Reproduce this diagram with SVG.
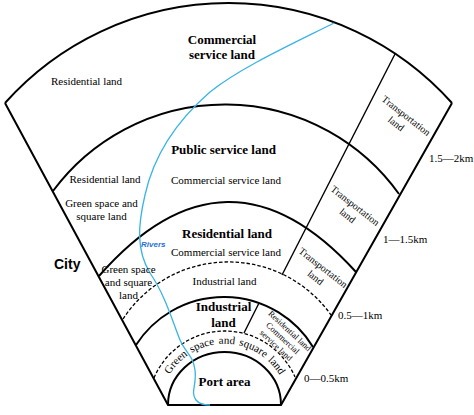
<svg xmlns="http://www.w3.org/2000/svg" width="474" height="415" viewBox="0 0 474 415">
<style>
.ln{fill:none;stroke:#000;stroke-width:2;stroke-linejoin:round}
.th{fill:none;stroke:#000;stroke-width:1.4}
.ds{fill:none;stroke:#000;stroke-width:1.3;stroke-dasharray:3.5 2}
.rv{fill:none;stroke:#3ab4e4;stroke-width:1.3}
.t{font-family:"Liberation Serif","Times New Roman",serif;font-size:11px;fill:#000;text-anchor:middle}
.c{font-family:"Liberation Serif","Times New Roman",serif;font-size:11px;fill:#000}
.b{font-family:"Liberation Serif","Times New Roman",serif;font-size:13px;font-weight:bold;fill:#000;text-anchor:middle}
.tr{font-family:"Liberation Serif","Times New Roman",serif;font-size:10px;fill:#000;text-anchor:middle}
.sm{font-family:"Liberation Serif","Times New Roman",serif;font-size:8.5px;fill:#000;text-anchor:middle}
.km{font-family:"Liberation Serif","Times New Roman",serif;font-size:11px;fill:#000}
</style>
<defs>
<path id="gpath" d="M168,377.7 A64,64 0 0 1 281,377.7"/>
</defs>
<rect width="474" height="415" fill="#fff"/>
<g id="connectors">
<path class="ln" d="M5,103 A299.8,299.8 0 0 1 452,103"/>
<path class="ln" d="M5,103 L168,405 L281,405 L452,103"/>
<path class="ln" d="M53,191 A214,214 0 0 1 399,194"/>
<path class="ln" d="M99,276 Q227,130 356,272"/>
<path class="ln" d="M136,345 A104.4,104.4 0 0 1 313,347"/>
<path class="ln" d="M168,405 A56.5,53 0 0 1 281,405"/>
<path class="ds" d="M123,319 A125.8,125.8 0 0 1 331,315"/>
<path class="ds" d="M154,378 A76.7,76.7 0 0 1 295,377"/>
<path class="th" d="M395,54 L282,275"/>
<path class="th" d="M259,303 L244,333"/>
</g>
<g id="river">
<path class="rv" d="M334,23 C290,45 240,68 210,92 C180,118 155,150 145,195 C138,225 136,250 150,273 C165,295 172,320 180,340 C185,352 193,355 195,370 C197,385 190,392 196,400 C199,404 204,405 210,405"/>
<text x="141" y="247" style="font-family:'Liberation Sans',Arial,sans-serif;font-size:8px;font-weight:bold;font-style:italic;fill:#1e6fd6">Rivers</text>
</g>
<g id="zone-1-5-2km">
<text class="b" x="222" y="44">Commercial</text>
<text class="b" x="222" y="58.5">service land</text>
<text class="t" x="86.5" y="85">Residential land</text>
<g transform="translate(406,116) rotate(38)"><text class="tr" x="0" y="3">Transportation</text><text class="tr" x="-3" y="15.5">land</text></g>
<text class="km" x="429" y="162">1.5—2km</text>
</g>
<g id="zone-1-1-5km">
<text class="b" x="223.5" y="154">Public service land</text>
<text class="t" x="105" y="183">Residential land</text>
<text class="t" x="226" y="184">Commercial service land</text>
<text class="t" x="101.5" y="207">Green space and</text>
<text class="t" x="101.5" y="220">square land</text>
<g transform="translate(355,206) rotate(38)"><text class="tr" x="0" y="3">Transportation</text><text class="tr" x="0" y="15.5">land</text></g>
<text class="km" x="383" y="243">1—1.5km</text>
</g>
<g id="zone-0-5-1km">
<text class="b" x="227" y="238">Residential land</text>
<text class="t" x="226" y="256">Commercial service land</text>
<text class="t" x="128.5" y="273">Green space</text>
<text class="t" x="128.5" y="286">and square</text>
<text class="t" x="128.5" y="299">land</text>
<text class="t" x="224.5" y="285">Industrial land</text>
<g transform="translate(323,268) rotate(38)"><text class="tr" x="0" y="3">Transportation</text><text class="tr" x="0" y="15.5">land</text></g>
<text class="km" x="338" y="319">0.5—1km</text>
</g>
<g id="zone-0-0-5km">
<text class="b" x="223.5" y="311">Industrial</text>
<text class="b" x="223.5" y="327">land</text>
<g transform="translate(283,338) rotate(43)"><text class="sm" x="0" y="-7">Residential land</text><text class="sm" x="0" y="3">Commercial</text><text class="sm" x="0" y="13">service land</text></g>
<text class="c"><textPath href="#gpath" startOffset="3.5">Green</textPath></text>
<text class="c"><textPath href="#gpath" startOffset="34.7">space</textPath></text>
<text class="c"><textPath href="#gpath" startOffset="63.4">and</textPath></text>
<text class="c"><textPath href="#gpath" startOffset="83.6">square</textPath></text>
<text class="c"><textPath href="#gpath" startOffset="116.5">land</textPath></text>
<text class="b" x="224.5" y="386">Port area</text>
<text class="km" x="304" y="382">0—0.5km</text>
</g>
<g id="city">
<text x="54" y="269" style="font-family:'Liberation Sans',Arial,sans-serif;font-size:14px;font-weight:bold;fill:#000">City</text>
</g>
</svg>
